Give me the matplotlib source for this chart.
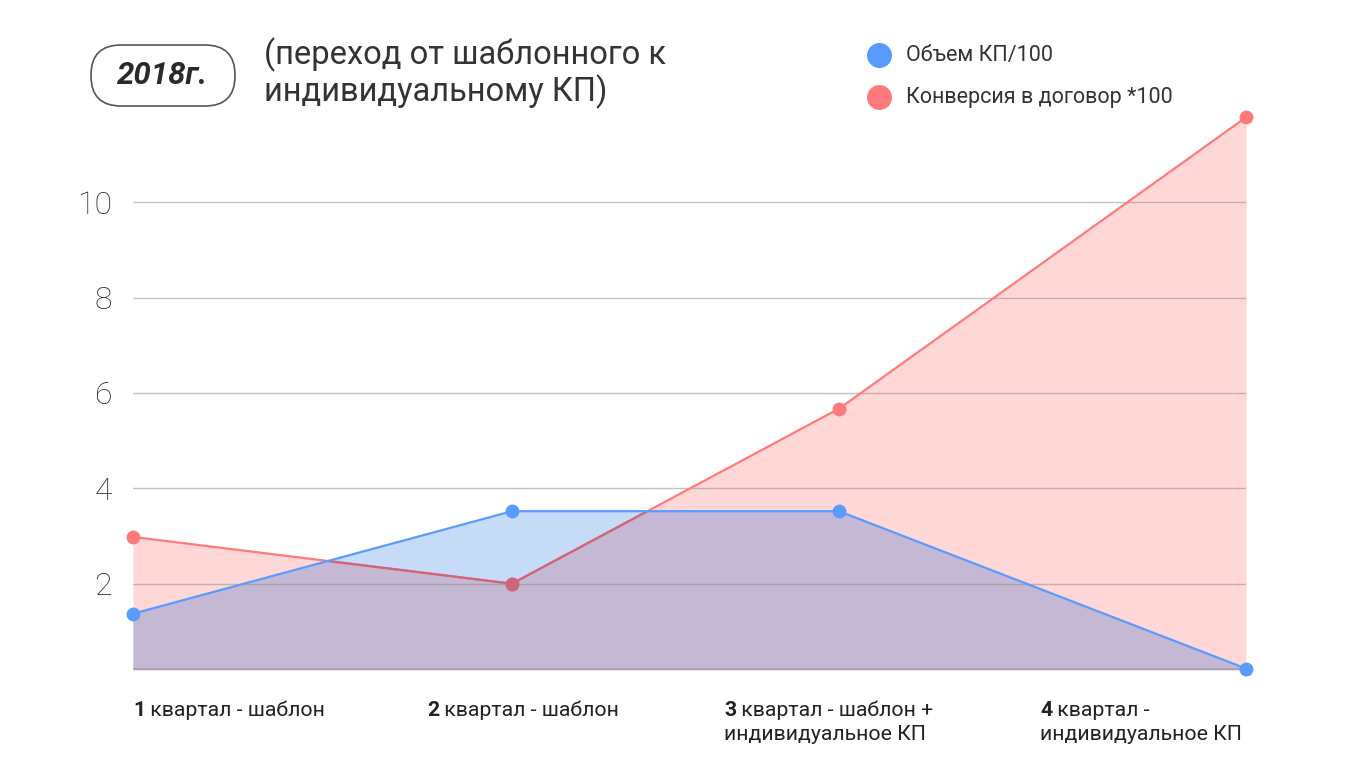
import numpy as np
import matplotlib
matplotlib.use("Agg")
import matplotlib.pyplot as plt
from matplotlib.patches import FancyBboxPatch
from matplotlib.lines import Line2D
from matplotlib.transforms import IdentityTransform

# ---- data ----
quarter_x = [0.0, 1.0, 1.863, 2.937]          # horizontal place of each quarter
volume_kp = [1.37, 3.52, 3.52, 0.22]          # Объем КП/100
conversion = [2.98, 2.0, 5.67, 11.78]         # Конверсия в договор *100
y_ticks = [2, 4, 6, 8, 10]
q_num = ["1", "2", "3", "4"]
q_text1 = [" квартал - шаблон", " квартал - шаблон", " квартал - шаблон +", " квартал -"]
q_text2 = ["", "", "индивидуальное КП", "индивидуальное КП"]
series_names = ["Объем КП/100", "Конверсия в договор *100"]
title_year = "2018г."
subtitle = "(переход от шаблонного к\nиндивидуальному КП)"

# ---- style ----
C_BLUE, C_RED = "#5a9bff", "#ff7b7b"
F_RED, F_BLUE, F_MIX = "#ffd7d7", "#c6dbf8", "#c5b8d4"
C_RED_DARK = "#c8687a"
C_TXT = "#333333"
plt.rcParams["font.family"] = ["Roboto", "DejaVu Sans"]

W, H = 1360, 765
fig = plt.figure(figsize=(13.6, 7.65), dpi=100)
Y0, Y1 = 0.19, 12.5
ax = fig.add_axes([133 / W, 95 / H, (1246 - 133) / W, 587 / H])
ax.set_xlim(quarter_x[0], quarter_x[-1])
ax.set_ylim(Y0, Y1)

# fills: pink under conversion, light blue under volume, purple where they overlap
ax.fill_between(quarter_x, Y0, conversion, color=F_RED, lw=0, zorder=1)
blue_fill = ax.fill_between(quarter_x, Y0, volume_kp, color=F_BLUE, lw=0, zorder=1.1)
mix = ax.fill_between(quarter_x, Y0, conversion, color=F_MIX, lw=0, zorder=1.2)
clip_path = blue_fill.get_paths()[0]
mix.set_clip_path(clip_path, ax.transData)

# grid
for yv in y_ticks:
    ax.axhline(yv, color="#888888", lw=1.0, alpha=0.5, zorder=1.5)
ax.axhline(Y0 + 0.02, color="#888888", lw=1.2, alpha=0.5, zorder=1.5)

# lines
ax.plot(quarter_x, conversion, color=C_RED, lw=1.6, marker="o", ms=10, mec="none", zorder=2, clip_on=False)
dark, = ax.plot(quarter_x, conversion, color=C_RED_DARK, lw=1.6, marker="o", ms=10, mec="none", zorder=2.2)
dark.set_clip_path(clip_path, ax.transData)
ax.plot(quarter_x, volume_kp, color=C_BLUE, lw=1.6, marker="o", ms=10, mec="none", zorder=3, clip_on=False)

ax.set_yticks(y_ticks)
ax.set_yticklabels([str(v) for v in y_ticks], fontsize=23, color="#2a2a2a", fontweight="light")
ax.tick_params(axis="y", length=0, pad=15)
ax.set_xticks([])
for s in ax.spines.values():
    s.set_visible(False)
ax.set_facecolor("none")

# quarter labels: bold number + regular text
label_px = [133, 427, 724, 1040]
for px, n, t1, t2 in zip(label_px, q_num, q_text1, q_text2):
    bt = fig.text(px / W, 1 - 716 / H, n, fontsize=15.3, fontweight="bold", color="#222222", va="baseline")
    ax.annotate(t1, xy=(1, 0), xycoords=bt, fontsize=15.3, color="#222222", va="bottom", ha="left",
                annotation_clip=False)
    if t2:
        fig.text(px / W, 1 - 740 / H, t2, fontsize=15.3, color="#222222", va="baseline")

# title block (pill box in pixels)
box = FancyBboxPatch((91, H - 106), 144, 61, boxstyle="round,pad=0,rounding_size=30",
                     transform=IdentityTransform(), fc="white", ec="#555555", lw=1.2)
fig.patches.append(box)
fig.text(163 / W, 1 - 75 / H, title_year, fontsize=22.5, fontweight="bold", fontstyle="italic",
         color="#2a2a2a", ha="center", va="center")
fig.text(264 / W, 1 - 37 / H, subtitle, fontsize=23.5, color=C_TXT, va="top", linespacing=1.1)

# legend
for i, (name, c) in enumerate(zip(series_names, [C_BLUE, C_RED])):
    yy = 1 - (55 + 42 * i) / H
    fig.lines.append(Line2D([879 / W], [yy], marker="o", ms=18, color=c, mec="none",
                            transform=fig.transFigure))
    fig.text(906 / W, yy, name, fontsize=15.5, color=C_TXT, va="center")

fig.savefig("out.png", dpi=100, facecolor="white")
